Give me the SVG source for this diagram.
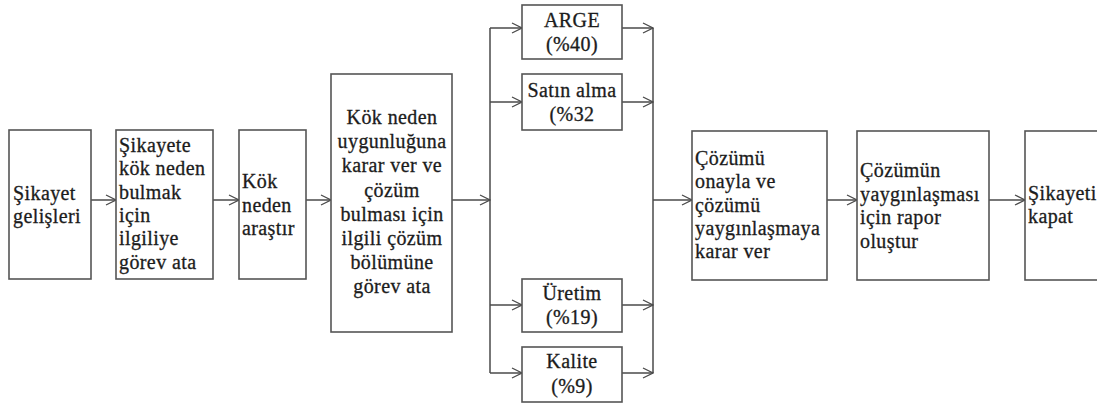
<svg xmlns="http://www.w3.org/2000/svg" width="1097" height="408" viewBox="0 0 1097 408" font-family="Liberation Serif, DejaVu Serif, serif">
<defs>
<style>
.box{fill:#fff;stroke:#555;stroke-width:1.6}
.t{font-size:20px;letter-spacing:0.4px;fill:#1c1c1c;stroke:#1c1c1c;stroke-width:0.3}
.c{text-anchor:middle}
.ln{fill:none;stroke:#4a4a4a;stroke-width:1.5}
.ar{fill:none;stroke:#4a4a4a;stroke-width:1.5;marker-end:url(#ah)}
</style>
<marker id="ah" viewBox="0 0 12 12" refX="11" refY="6" markerWidth="12" markerHeight="12" markerUnits="userSpaceOnUse" orient="auto">
<path d="M1,1 L11,6 L1,11" fill="none" stroke="#4a4a4a" stroke-width="1.3"/>
</marker>
</defs>
<rect width="1097" height="408" fill="#fff"/>
<g id="connectors">
<line class="ar" x1="91" y1="200" x2="116" y2="200"/>
<line class="ar" x1="213" y1="200" x2="239" y2="200"/>
<line class="ar" x1="306" y1="200" x2="331" y2="200"/>
<line class="ar" x1="452" y1="200" x2="490" y2="200"/>
<line class="ln" x1="490" y1="28" x2="490" y2="373"/>
<line class="ar" x1="490" y1="28" x2="522" y2="28"/>
<line class="ar" x1="490" y1="102" x2="522" y2="102"/>
<line class="ar" x1="490" y1="305" x2="522" y2="305"/>
<line class="ar" x1="490" y1="373" x2="522" y2="373"/>
<line class="ar" x1="622" y1="28" x2="653" y2="28"/>
<line class="ar" x1="622" y1="102" x2="653" y2="102"/>
<line class="ar" x1="622" y1="305" x2="653" y2="305"/>
<line class="ar" x1="622" y1="373" x2="653" y2="373"/>
<line class="ln" x1="653" y1="28" x2="653" y2="373"/>
<line class="ar" x1="653" y1="200" x2="692" y2="200"/>
<line class="ar" x1="827" y1="200" x2="857" y2="200"/>
<line class="ar" x1="989" y1="200" x2="1025" y2="200"/>
</g>
<g id="n1">
<rect class="box" x="9" y="130" width="82" height="149"/>
<text class="t" x="13" y="200">Şikayet</text>
<text class="t" x="13" y="223">gelişleri</text>
</g>
<g id="n2">
<rect class="box" x="116" y="130" width="97" height="149"/>
<text class="t" x="119" y="152">Şikayete</text>
<text class="t" x="119" y="175.3">kök neden</text>
<text class="t" x="119" y="198.6">bulmak</text>
<text class="t" x="119" y="222">için</text>
<text class="t" x="119" y="245">ilgiliye</text>
<text class="t" x="119" y="268.5">görev ata</text>
</g>
<g id="n3">
<rect class="box" x="239" y="130" width="67" height="149"/>
<text class="t" x="242" y="188">Kök</text>
<text class="t" x="242" y="211.5">neden</text>
<text class="t" x="242" y="235">araştır</text>
</g>
<g id="n4">
<rect class="box" x="331" y="74" width="121" height="258"/>
<text class="t c" x="392" y="124">Kök neden</text>
<text class="t c" x="392" y="148.2">uygunluğuna</text>
<text class="t c" x="392" y="172.4">karar ver ve</text>
<text class="t c" x="392" y="196.6">çözüm</text>
<text class="t c" x="392" y="220.8">bulması için</text>
<text class="t c" x="392" y="245">ilgili çözüm</text>
<text class="t c" x="392" y="269.2">bölümüne</text>
<text class="t c" x="392" y="293.4">görev ata</text>
</g>
<g id="n5">
<rect class="box" x="522" y="5" width="100" height="54"/>
<text class="t c" x="572" y="27">ARGE</text>
<text class="t c" x="572" y="51">(%40)</text>
</g>
<g id="n6">
<rect class="box" x="522" y="74" width="100" height="56"/>
<text class="t c" x="572" y="97">Satın alma</text>
<text class="t c" x="572" y="121">(%32</text>
</g>
<g id="n7">
<rect class="box" x="522" y="279" width="100" height="53"/>
<text class="t c" x="572" y="300">Üretim</text>
<text class="t c" x="572" y="324">(%19)</text>
</g>
<g id="n8">
<rect class="box" x="522" y="347" width="100" height="55"/>
<text class="t c" x="572" y="368">Kalite</text>
<text class="t c" x="572" y="393">(%9)</text>
</g>
<g id="n9">
<rect class="box" x="692" y="131" width="135" height="149"/>
<text class="t" x="695" y="165">Çözümü</text>
<text class="t" x="695" y="188.3">onayla ve</text>
<text class="t" x="695" y="211.6">çözümü</text>
<text class="t" x="695" y="235">yaygınlaşmaya</text>
<text class="t" x="695" y="258.3">karar ver</text>
</g>
<g id="n10">
<rect class="box" x="857" y="131" width="132" height="149"/>
<text class="t" x="860" y="177">Çözümün</text>
<text class="t" x="860" y="200.5">yaygınlaşması</text>
<text class="t" x="860" y="224">için rapor</text>
<text class="t" x="860" y="247.5">oluştur</text>
</g>
<g id="n11">
<rect class="box" x="1025" y="131" width="100" height="149"/>
<text class="t" x="1028" y="200">Şikayeti</text>
<text class="t" x="1028" y="223">kapat</text>
</g>
</svg>
